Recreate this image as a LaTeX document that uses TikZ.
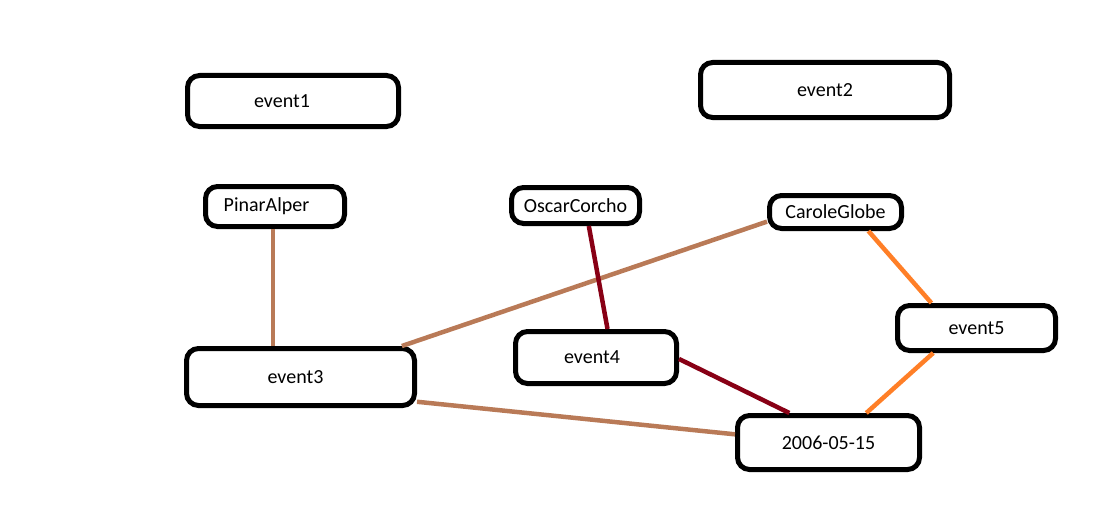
\documentclass[tikz,border=0pt]{standalone}
\usepackage{fontspec}
\setmainfont{Carlito}
\usepackage{xcolor}
\definecolor{linkbrown}{RGB}{185,122,87}
\definecolor{linkred}{RGB}{136,0,21}
\definecolor{linkorange}{RGB}{255,127,39}

\begin{document}
\begin{tikzpicture}[x=1pt,y=-1pt,
  ev/.style={draw=black, line width=5pt, rounded corners=12pt, inner sep=0pt,
    font=\fontsize{20}{24}\selectfont},
  link/.style={line width=4.5pt}]
\useasboundingbox (0,0) rectangle (1103,527);

\node[ev, minimum width=211, minimum height=51] (event1) at (293,101) {event1\hspace*{22pt}};
\node[ev, minimum width=249, minimum height=55] (event2) at (825,90) {event2};
\node[ev, minimum width=139, minimum height=40] (pinar) at (275,206.5) {PinarAlper\hspace*{17pt}};
\node[ev, minimum width=128, minimum height=36] (oscar) at (575.5,205.5) {OscarCorcho};
\node[ev, minimum width=132, minimum height=33] (carole) at (835.5,212) {CaroleGlobe};
\node[ev, minimum width=228, minimum height=57] (event3) at (300.5,377) {event3\hspace*{10pt}};
\node[ev, minimum width=161, minimum height=52] (event4) at (596,357.5) {event4\hspace*{8pt}};
\node[ev, minimum width=158, minimum height=45] (event5) at (976.5,328) {event5};
\node[ev, minimum width=182, minimum height=54] (date) at (828.5,442.5) {2006-05-15};

% brown links
\draw[link,linkbrown] ([xshift=-2]pinar.south) -- ([xshift=-2]pinar.south |- event3.north);
\draw[link,linkbrown] (event3.17) -- (carole.188.3);
\draw[link,linkbrown] (event3.-12.6) -- (date.175.4);
% dark red links
\draw[link,linkred] (oscar.-57.9) -- (event4.68.9);
\draw[link,linkred] (event4.-1.7) -- (date.143.5);
% orange links
\draw[link,linkorange] (carole.-30) -- (event5.151.2);
\draw[link,linkorange] (event5.210.9) -- (date.38.8);
\end{tikzpicture}
\end{document}
